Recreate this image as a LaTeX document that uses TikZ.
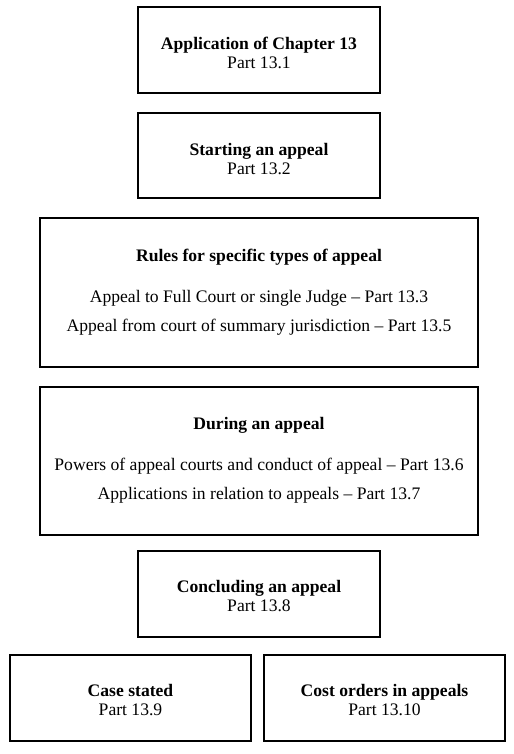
\documentclass[tikz,border=0pt]{standalone}
\usepackage{fontspec}
\setmainfont{Liberation Serif}
\begin{document}
\begin{tikzpicture}[x=0.75pt,y=-0.75pt,
  box/.style={draw=black,line width=0.8pt,inner sep=0pt},
  txt/.style={inner sep=0pt,anchor=base,font=\fontsize{13.2}{15}\selectfont},
  btxt/.style={txt,font=\fontsize{13.2}{15}\selectfont\bfseries}]
\useasboundingbox (0,0) rectangle (514,754);
% boxes
\node[box,minimum width=242*0.75pt,minimum height=86*0.75pt] (b1) at (259,50) {};
\node[box,minimum width=242*0.75pt,minimum height=85*0.75pt] (b2) at (259,155.5) {};
\node[box,minimum width=438*0.75pt,minimum height=149*0.75pt] (b3) at (259,292.5) {};
\node[box,minimum width=438*0.75pt,minimum height=148*0.75pt] (b4) at (259,461) {};
\node[box,minimum width=242*0.75pt,minimum height=86*0.75pt] (b5) at (259,594) {};
\node[box,minimum width=241*0.75pt,minimum height=86*0.75pt] (b6) at (130.5,698) {};
\node[box,minimum width=241*0.75pt,minimum height=86*0.75pt] (b7) at (384.5,698) {};
% texts
\node[btxt] (t1a) at (259,49.5) {Application of Chapter 13};
\node[txt] (t1b) at (259,68) {Part 13.1};
\node[btxt] (t2a) at (259,155.5) {Starting an appeal};
\node[txt] (t2b) at (259,174) {Part 13.2};
\node[btxt] (t3a) at (259,261.5) {Rules for specific types of appeal};
\node[txt] (t3b) at (259,302.5) {Appeal to Full Court or single Judge – Part 13.3};
\node[txt] (t3c) at (259,331.5) {Appeal from court of summary jurisdiction – Part 13.5};
\node[btxt] (t4a) at (259,429.5) {During an appeal};
\node[txt] (t4b) at (259,470.5) {Powers of appeal courts and conduct of appeal – Part 13.6};
\node[txt] (t4c) at (259,499.5) {Applications in relation to appeals – Part 13.7};
\node[btxt] (t5a) at (259,592.5) {Concluding an appeal};
\node[txt] (t5b) at (259,611) {Part 13.8};
\node[btxt] (t6a) at (130.5,696.5) {Case stated};
\node[txt] (t6b) at (130.5,715) {Part 13.9};
\node[btxt] (t7a) at (384.5,696.5) {Cost orders in appeals};
\node[txt] (t7b) at (384.5,715) {Part 13.10};
\end{tikzpicture}
\end{document}
